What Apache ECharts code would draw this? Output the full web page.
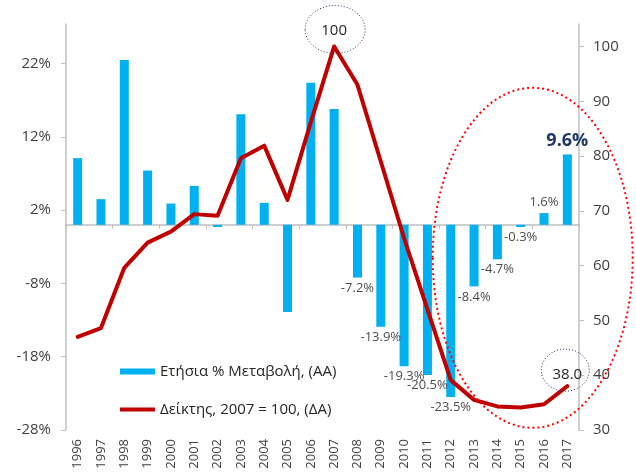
<!DOCTYPE html>
<html>
<head>
<meta charset="utf-8">
<script src="https://cdn.jsdelivr.net/npm/echarts@6/dist/echarts.min.js"></script>
<style>
    html, body { margin: 0; padding: 0; background: #fff; }
    #chart-main { width: 636px; height: 475px; }
</style>
</head>
<body>
<div id="chart-main"></div>
<script>
let years = ["1996", "1997", "1998", "1999", "2000", "2001", "2002", "2003", "2004", "2005", "2006",
    "2007", "2008", "2009", "2010", "2011", "2012", "2013", "2014", "2015", "2016", "2017"];
// ετήσια % μεταβολή (αριστερός άξονας)
let changePct = [9.1, 3.5, 22.5, 7.4, 2.9, 5.3, -0.3, 15.1, 3.0, -11.9, 19.4,
    15.8, -7.2, -13.9, -19.3, -20.5, -23.5, -8.4, -4.7, -0.3, 1.6, 9.6];
// δείκτης 2007 = 100 (δεξιός άξονας)
let indexValues = [47.0, 48.6, 59.6, 64.2, 66.2, 69.4, 69.1, 79.6, 81.9, 72.0, 86.2,
    100, 93.0, 79.0, 65.0, 52.0, 39.1, 35.5, 34.3, 34.1, 34.7, 38.0];
let leftTicks = [-28, -18, -8, 2, 12, 22];
let rightTicks = [30, 40, 50, 60, 70, 80, 90, 100];
let labelFromYear = "2008";
let indexLabelYears = ["2007", "2017"];

let fontFamily = '"Open Sans", "DejaVu Sans", sans-serif';
let myChart = echarts.init(document.getElementById("chart-main"));

let barData = changePct.map((v, i) => {
    let item = { value: v };
    if (years[i] >= labelFromYear) {
        item.label = {
            show: true,
            position: v < 0 ? "bottom" : "top",
            distance: 4,
            formatter: (p) => p.value + "%",
            color: "#4d4d4d",
            fontSize: 13,
        };
        if (years[i] === "2017") {
            item.label.color = "#1f3864";
            item.label.fontWeight = "bold";
            item.label.fontSize = 18;
            item.label.distance = 5;
        }
    }
    return item;
});

// ετικέτες δείκτη μόνο για 2007 και 2017
let indexMarks = indexLabelYears.map((y) => {
    let v = indexValues[years.indexOf(y)];
    return {
        coord: [y, v],
        value: v,
        label: { offset: [0, y === "2007" ? -16 : -11] },
    };
});

let axisLineStyle = { color: "#bfbfbf", width: 1.5 };
let axisText = { color: "#404040", fontSize: 15, fontFamily: fontFamily };

let option = {
    animation: false,
    textStyle: { fontFamily: fontFamily },
    grid: { left: 66, right: 57, top: 24, bottom: 45 },
    legend: {
        orient: "vertical",
        left: 115,
        top: 359,
        itemGap: 23,
        itemWidth: 35,
        itemHeight: 6,
        textStyle: { color: "#262626", fontSize: 15 },
        data: [
            { name: "Ετήσια % Μεταβολή, (AA)", icon: "rect" },
            { name: "Δείκτης, 2007 = 100, (ΔΑ)", icon: "path://M0,0 L40,0 L40,4.5 L0,4.5 Z" },
        ],
    },
    xAxis: [
        {
            type: "category",
            data: years,
            position: "bottom",
            axisLine: { onZero: true, onZeroAxisIndex: 0, lineStyle: axisLineStyle },
            axisTick: { show: true, length: 4, lineStyle: { color: "#bfbfbf" } },
            axisLabel: { show: false },
        },
        {
            type: "category",
            data: years,
            position: "bottom",
            axisLine: { show: false, onZero: false },
            axisTick: { show: false },
            axisLabel: Object.assign({ rotate: 90, margin: 9, interval: 0 }, axisText, { fontSize: 13 }),
        },
    ],
    yAxis: [
        {
            type: "value",
            min: -28,
            max: 27.4,
            interval: 10,
            splitLine: { show: false },
            axisLine: { show: true, lineStyle: axisLineStyle },
            axisTick: { show: true, length: 5, lineStyle: { color: "#bfbfbf" }, customValues: leftTicks },
            axisLabel: Object.assign({ margin: 15, formatter: "{value}%", customValues: leftTicks }, axisText),
        },
        {
            type: "value",
            min: 30,
            max: 104.1,
            interval: 10,
            position: "right",
            splitLine: { show: false },
            axisLine: { show: true, lineStyle: axisLineStyle },
            axisTick: { show: true, length: 5, lineStyle: { color: "#bfbfbf" }, customValues: rightTicks },
            axisLabel: Object.assign({ margin: 14, customValues: rightTicks }, axisText),
        },
    ],
    series: [
        {
            name: "Ετήσια % Μεταβολή, (AA)",
            type: "bar",
            xAxisIndex: 0,
            yAxisIndex: 0,
            barWidth: 9,
            itemStyle: { color: "#00b0f0" },
            data: barData,
        },
        {
            name: "Δείκτης, 2007 = 100, (ΔΑ)",
            type: "line",
            xAxisIndex: 0,
            yAxisIndex: 1,
            symbol: "none",
            lineStyle: { color: "#c00000", width: 4, join: "round", cap: "round" },
            itemStyle: { color: "#c00000" },
            z: 5,
            data: indexValues,
            markPoint: {
                symbol: "circle",
                symbolSize: 0,
                label: {
                    show: true,
                    position: "inside",
                    color: "#262626",
                    fontSize: 15,
                    formatter: (p) => (p.value === 100 ? "100" : p.value.toFixed(1)),
                },
                data: indexMarks,
            },
        },
    ],
};
option && myChart.setOption(option);

// κύκλοι σχολιασμού γύρω από τις τιμές
let peak = myChart.convertToPixel({ xAxisIndex: 0, yAxisIndex: 1 }, ["2007", 100]);
let last = myChart.convertToPixel({ xAxisIndex: 0, yAxisIndex: 1 }, ["2017", 38.0]);
let midRecent = myChart.convertToPixel({ xAxisIndex: 0, yAxisIndex: 0 }, ["2015", -4.5]);
myChart.setOption({
    graphic: [
        {
            type: "ellipse",
            shape: { cx: peak[0] + 1, cy: peak[1] - 17, rx: 30, ry: 24 },
            style: { fill: "none", stroke: "#1f3864", lineWidth: 1, lineDash: [1, 2] },
            z: 10,
        },
        {
            type: "ellipse",
            shape: { cx: last[0] - 2, cy: last[1] - 16, rx: 24, ry: 21 },
            style: { fill: "none", stroke: "#1f3864", lineWidth: 1, lineDash: [1, 2] },
            z: 10,
        },
        {
            type: "ellipse",
            shape: { cx: midRecent[0] + 12, cy: midRecent[1], rx: 100, ry: 170 },
            style: { fill: "none", stroke: "#ff0000", lineWidth: 2, lineDash: [2, 3] },
            z: 10,
        },
    ],
});
</script>
</body>
</html>
